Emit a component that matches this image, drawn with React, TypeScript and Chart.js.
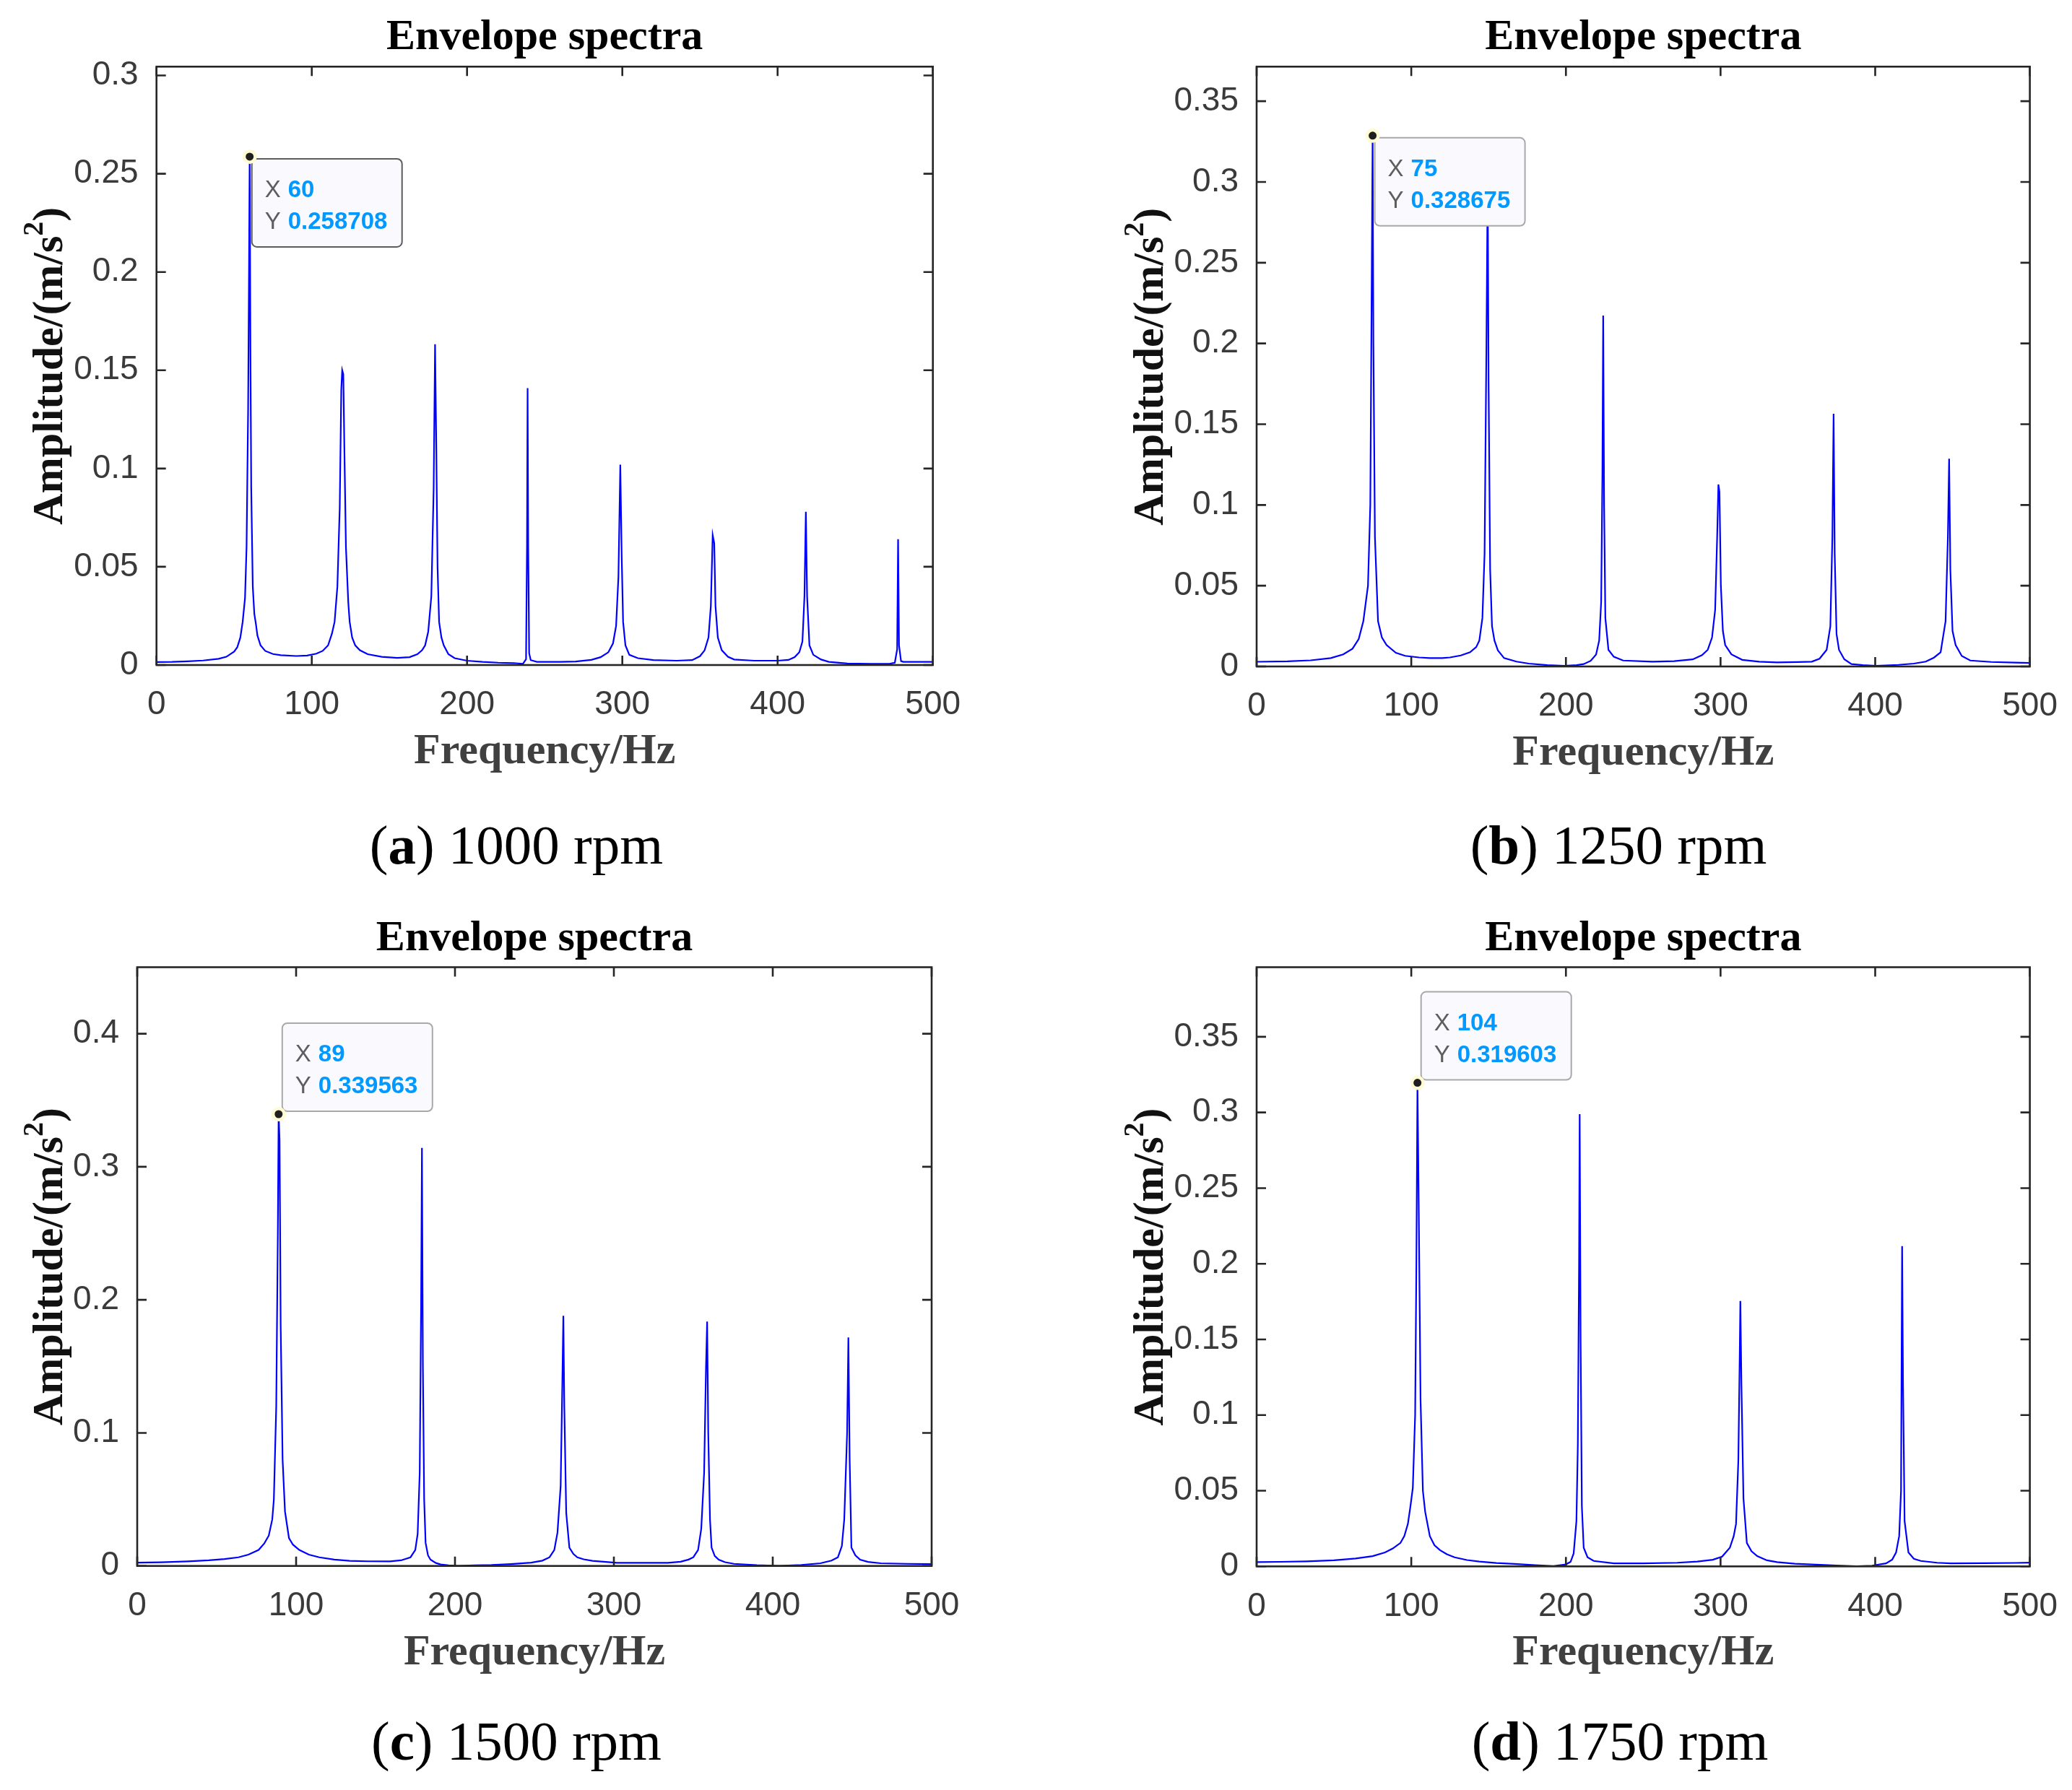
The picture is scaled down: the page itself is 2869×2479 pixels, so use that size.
import React, { useEffect, useRef } from "react";
import { Chart, registerables } from "chart.js";

Chart.register(...registerables);

// ---------------- data ----------------
const freqA = [0, 10, 20, 30, 40, 45, 50, 52, 54, 55.5, 57, 58, 59, 59.5, 60, 60.5, 61, 62, 63, 64, 65, 67, 70, 75, 80, 90, 97, 103, 107, 110.5, 113, 114.7, 116.5, 118, 119, 119.6, 120.3, 121, 122, 123.5, 124.4, 126, 128, 131, 136, 145, 155, 163, 168, 171, 173, 175, 177, 178.5, 179.4, 180.2, 181, 182, 183.5, 185, 188, 192, 200, 210, 220, 230, 236, 238, 238.6, 239, 239.4, 240, 241, 245, 260, 270, 280, 286, 291, 294, 296, 297.5, 298.7, 299.6, 300.5, 302, 304.5, 310, 320, 335, 345, 350, 353, 355.5, 357, 358.2, 359.2, 360, 361.5, 364, 368, 372, 385, 400, 407, 411, 414, 416, 417.3, 418.2, 419, 420.5, 423, 428, 433, 445, 460, 472, 475.5, 477, 477.6, 478.2, 479.5, 481, 490, 500];
const ampA = [0.0015, 0.0016, 0.0019, 0.0023, 0.0032, 0.0042, 0.0068, 0.009, 0.014, 0.022, 0.034, 0.06, 0.13, 0.19, 0.258708, 0.16, 0.09, 0.04, 0.026, 0.021, 0.015, 0.01, 0.0072, 0.0056, 0.005, 0.0046, 0.0048, 0.0058, 0.0072, 0.01, 0.016, 0.022, 0.04, 0.08, 0.14, 0.15, 0.148, 0.11, 0.06, 0.032, 0.022, 0.014, 0.01, 0.0075, 0.0055, 0.0042, 0.0036, 0.004, 0.0055, 0.0075, 0.01, 0.017, 0.035, 0.09, 0.1632, 0.11, 0.05, 0.022, 0.014, 0.01, 0.0055, 0.0035, 0.0022, 0.0016, 0.0012, 0.001, 0.0006, 0.003, 0.06, 0.1409, 0.06, 0.006, 0.0025, 0.0016, 0.0016, 0.0018, 0.0026, 0.004, 0.0065, 0.011, 0.02, 0.045, 0.102, 0.055, 0.022, 0.01, 0.0052, 0.0035, 0.0025, 0.0022, 0.0025, 0.0045, 0.0075, 0.014, 0.03, 0.0661, 0.062, 0.03, 0.014, 0.0076, 0.0042, 0.0028, 0.0022, 0.0022, 0.0026, 0.004, 0.0065, 0.012, 0.035, 0.078, 0.035, 0.01, 0.0052, 0.0028, 0.0016, 0.0008, 0.0006, 0.0006, 0.0012, 0.008, 0.064, 0.01, 0.002, 0.0016, 0.0016, 0.0016];

const freqB = [0, 20, 35, 48, 56, 62, 66, 69, 72, 73.5, 74.5, 75, 75.5, 76.5, 78.5, 81, 84, 90, 96, 105, 112, 120, 125, 132, 138, 142, 144, 146, 147.4, 148.6, 149.4, 150, 151, 152.2, 153.8, 156, 160, 168, 176, 188, 199, 207, 211.5, 216, 219.5, 221.5, 222.8, 223.6, 224.1, 224.7, 225.5, 227.5, 231, 237, 256, 270, 282, 288, 291.7, 294.5, 296.5, 297.8, 298.6, 299.3, 300.2, 301.5, 303, 307, 314, 325, 336.5, 350, 359, 364, 368.6, 371, 372.3, 373.1, 373.8, 375, 376.6, 380, 384.6, 392, 400.6, 415, 425, 432.7, 438, 442.3, 445.5, 447, 447.8, 448.6, 450, 452, 456, 461.5, 475, 490, 500];
const ampB = [0.0029, 0.0032, 0.0038, 0.0052, 0.0075, 0.011, 0.017, 0.028, 0.05, 0.1, 0.25, 0.328675, 0.2, 0.08, 0.028, 0.018, 0.0133, 0.0085, 0.0066, 0.0056, 0.0052, 0.0052, 0.0056, 0.0068, 0.0088, 0.012, 0.016, 0.03, 0.07, 0.2, 0.3, 0.175, 0.06, 0.025, 0.016, 0.01, 0.0052, 0.003, 0.0018, 0.0008, 0.0004, 0.0008, 0.0015, 0.0035, 0.0074, 0.016, 0.04, 0.12, 0.2173, 0.1, 0.03, 0.0103, 0.006, 0.0037, 0.003, 0.0033, 0.0044, 0.007, 0.0103, 0.018, 0.035, 0.08, 0.1127, 0.108, 0.05, 0.022, 0.0133, 0.0075, 0.0041, 0.003, 0.0025, 0.0027, 0.003, 0.0048, 0.0103, 0.025, 0.08, 0.1565, 0.07, 0.02, 0.0103, 0.0045, 0.0015, 0.0008, 0.0004, 0.001, 0.0018, 0.003, 0.0055, 0.0088, 0.028, 0.08, 0.1286, 0.06, 0.022, 0.0133, 0.0065, 0.0037, 0.0028, 0.0024, 0.0022];

const freqC = [0, 15, 31.8, 45, 55, 63.7, 70, 76.4, 80, 82.8, 85, 86, 87.5, 88.5, 89, 89.6, 90.3, 91.5, 93, 95.5, 98, 102, 108, 114.6, 124, 133.7, 145, 159, 166, 172, 175, 176.5, 177.8, 178.7, 179.2, 179.8, 180.6, 181.5, 183, 184.6, 188, 191, 196, 202, 212, 223, 235, 248, 255, 259.5, 262.5, 264.5, 266.5, 267.6, 268.2, 268.8, 270, 272, 274.5, 277, 281, 286.5, 302, 318, 334, 342, 347, 350, 353, 355, 356.8, 358, 358.7, 359.4, 360.5, 361.5, 363.5, 366, 370, 375.6, 390, 404, 418, 430, 437, 441, 443.5, 445, 446.8, 447.6, 448.4, 449.5, 452, 455, 460, 468, 485, 500];
const ampC = [0.0025, 0.0028, 0.0034, 0.0042, 0.0052, 0.0065, 0.0085, 0.012, 0.017, 0.0228, 0.035, 0.05, 0.12, 0.25, 0.339563, 0.32, 0.18, 0.08, 0.041, 0.021, 0.016, 0.012, 0.0085, 0.0065, 0.0048, 0.0038, 0.0035, 0.0034, 0.0042, 0.0065, 0.012, 0.024, 0.07, 0.2, 0.3142, 0.15, 0.05, 0.0174, 0.008, 0.0047, 0.0022, 0.0011, 0.0004, 0.0001, 0.0004, 0.0007, 0.0014, 0.0025, 0.004, 0.0065, 0.012, 0.025, 0.06, 0.14, 0.188, 0.12, 0.04, 0.0138, 0.009, 0.0065, 0.005, 0.0038, 0.0024, 0.0023, 0.0024, 0.0032, 0.0048, 0.0065, 0.012, 0.028, 0.07, 0.15, 0.1837, 0.1, 0.035, 0.0138, 0.0075, 0.0047, 0.0028, 0.0016, 0.0006, 0.0001, 0.0008, 0.002, 0.004, 0.0065, 0.015, 0.035, 0.1, 0.1717, 0.08, 0.0138, 0.008, 0.0047, 0.003, 0.002, 0.0016, 0.0014];

const freqD = [0, 15, 32, 50, 64, 75, 83, 88, 93, 95.5, 97.8, 99.5, 101, 102.5, 103.3, 104, 104.8, 106, 107.5, 109, 112, 115, 118.6, 123, 128, 136, 144, 155, 166.7, 180, 192, 200, 203, 205, 206.8, 207.7, 208.5, 208.9, 209.5, 210.3, 211.5, 214, 218, 231, 250, 272, 285, 295, 301, 306, 308.5, 310, 311.5, 312.4, 312.8, 313.5, 314.8, 317, 320, 323.7, 330, 336.5, 348, 359, 375, 388, 398, 407, 411, 413.5, 415.5, 416.7, 417.4, 418, 419, 421.5, 425, 429.5, 440, 448.7, 470, 490, 500];
const ampD = [0.0028, 0.003, 0.0033, 0.004, 0.0052, 0.0068, 0.0092, 0.0118, 0.0155, 0.02, 0.028, 0.04, 0.052, 0.1, 0.2, 0.319603, 0.24, 0.11, 0.05, 0.036, 0.02, 0.014, 0.0107, 0.008, 0.006, 0.0042, 0.0032, 0.0022, 0.0016, 0.0008, 0.0002, 0.0013, 0.003, 0.0085, 0.03, 0.08, 0.2, 0.2989, 0.15, 0.04, 0.0123, 0.006, 0.0036, 0.002, 0.002, 0.0024, 0.0032, 0.0044, 0.0065, 0.0123, 0.02, 0.028, 0.07, 0.14, 0.1754, 0.12, 0.045, 0.0155, 0.01, 0.0068, 0.004, 0.0028, 0.0018, 0.0013, 0.0006, 0.0001, 0.0005, 0.002, 0.0045, 0.0092, 0.02, 0.05, 0.2117, 0.12, 0.03, 0.0092, 0.005, 0.0036, 0.0024, 0.002, 0.0021, 0.0023, 0.0025];

const xTicks = [0, 100, 200, 300, 400, 500];
const yTicksA = [0, 0.05, 0.1, 0.15, 0.2, 0.25, 0.3];
const yTicksB = [0, 0.05, 0.1, 0.15, 0.2, 0.25, 0.3, 0.35];
const yTicksC = [0, 0.1, 0.2, 0.3, 0.4];
const yTicksD = [0, 0.05, 0.1, 0.15, 0.2, 0.25, 0.3, 0.35];
const yMaxes = [0.3045, 0.3714, 0.45, 0.396];
const xMin = 0;
const xMax = 500;

const tipX = [60, 75, 89, 104];
const tipY = [0.258708, 0.328675, 0.339563, 0.319603];

const captionLetters = ["a", "b", "c", "d"];
const captionRpm = ["1000 rpm", "1250 rpm", "1500 rpm", "1750 rpm"];
const titleText = "Envelope spectra";
const xLabelText = "Frequency/Hz";
const yLabelMain = "Amplitude/(m/s";
const yLabelSup = "2";
const yLabelEnd = ")";

const freqs = [freqA, freqB, freqC, freqD];
const amps = [ampA, ampB, ampC, ampD];
const yTicksAll = [yTicksA, yTicksB, yTicksC, yTicksD];

// ---------------- layout (pixels) ----------------
type Layout = {
  left: number; top: number; w: number; h: number;
  pl: number; pt: number; pr: number; pb: number;
  ylabX: number; capX: number; capY: number; tipBelow: boolean; tipBorder: string;
};

const layouts: Layout[] = [
  { left: 0, top: 0, w: 1434, h: 1240, pl: 216.7, pt: 92.3, pr: 1291.7, pb: 921, ylabX: 68, capX: 715, capY: 1196, tipBelow: true, tipBorder: "#5c5c5c" },
  { left: 1434, top: 0, w: 1435, h: 1240, pl: 306, pt: 92.3, pr: 1380.5, pb: 923, ylabX: 158, capX: 807, capY: 1196, tipBelow: true, tipBorder: "#a9a9a9" },
  { left: 0, top: 1240, w: 1434, h: 1239, pl: 190, pt: 99.5, pr: 1290, pb: 928.7, ylabX: 68, capX: 715, capY: 1197, tipBelow: false, tipBorder: "#a9a9a9" },
  { left: 1434, top: 1240, w: 1435, h: 1239, pl: 306, pt: 99.5, pr: 1380, pb: 929.3, ylabX: 158, capX: 809, capY: 1197, tipBelow: false, tipBorder: "#a9a9a9" },
];

const fmt = (v: number) => String(Number(v.toFixed(3)));

function roundRect(ctx: CanvasRenderingContext2D, x: number, y: number, w: number, h: number, r: number) {
  ctx.beginPath();
  ctx.moveTo(x + r, y);
  ctx.lineTo(x + w - r, y);
  ctx.arcTo(x + w, y, x + w, y + r, r);
  ctx.lineTo(x + w, y + h - r);
  ctx.arcTo(x + w, y + h, x + w - r, y + h, r);
  ctx.lineTo(x + r, y + h);
  ctx.arcTo(x, y + h, x, y + h - r, r);
  ctx.lineTo(x, y + r);
  ctx.arcTo(x, y, x + r, y, r);
  ctx.closePath();
}

function Panel({ idx }: { idx: number }) {
  const ref = useRef<HTMLCanvasElement | null>(null);
  const L = layouts[idx];

  useEffect(() => {
    if (!ref.current) return;
    const yTicks = yTicksAll[idx];
    const points = freqs[idx].map((f, i) => ({ x: f, y: amps[idx][i] }));

    const decor = {
      id: "decor" + idx,
      afterDraw(chart: any) {
        const ctx: CanvasRenderingContext2D = chart.ctx;
        const ca = chart.chartArea;
        const xs = chart.scales.x;
        const ys = chart.scales.y;
        ctx.save();

        // box
        ctx.strokeStyle = "#262626";
        ctx.lineWidth = 2.6;
        ctx.strokeRect(ca.left, ca.top, ca.right - ca.left, ca.bottom - ca.top);

        // inward ticks on all four sides
        const tl = 13;
        ctx.beginPath();
        xTicks.forEach((v) => {
          const px = xs.getPixelForValue(v);
          ctx.moveTo(px, ca.bottom);
          ctx.lineTo(px, ca.bottom - tl);
          ctx.moveTo(px, ca.top);
          ctx.lineTo(px, ca.top + tl);
        });
        yTicks.forEach((v) => {
          const py = ys.getPixelForValue(v);
          ctx.moveTo(ca.left, py);
          ctx.lineTo(ca.left + tl, py);
          ctx.moveTo(ca.right, py);
          ctx.lineTo(ca.right - tl, py);
        });
        ctx.stroke();

        // data tip
        const px = xs.getPixelForValue(tipX[idx]);
        const py = ys.getPixelForValue(tipY[idx]);
        const bw = 208;
        const bh = 122;
        const bx = px + (L.tipBelow ? 3 : 5);
        const by = L.tipBelow ? py + 3 : py - 4 - bh;
        roundRect(ctx, bx, by, bw, bh, 7);
        ctx.fillStyle = "#f9f9fe";
        ctx.fill();
        ctx.strokeStyle = L.tipBorder;
        ctx.lineWidth = 2;
        ctx.stroke();
        ctx.textAlign = "left";
        ctx.textBaseline = "alphabetic";
        ctx.font = '33px "Liberation Sans"';
        ctx.fillStyle = "#5e5e5e";
        ctx.fillText("X", bx + 18, by + 53);
        ctx.fillText("Y", bx + 18, by + 97);
        ctx.font = 'bold 33px "Liberation Sans"';
        ctx.fillStyle = "#0099ff";
        ctx.fillText(String(tipX[idx]), bx + 50, by + 53);
        ctx.fillText(tipY[idx].toFixed(6), bx + 50, by + 97);
        // marker
        ctx.beginPath();
        ctx.arc(px, py, 10, 0, Math.PI * 2);
        ctx.fillStyle = "#fffbd2";
        ctx.fill();
        ctx.beginPath();
        ctx.arc(px, py, 5.5, 0, Math.PI * 2);
        ctx.fillStyle = "#1f1f1f";
        ctx.fill();

        // title
        const cx = (ca.left + ca.right) / 2;
        ctx.textAlign = "center";
        ctx.font = 'bold 60px "Liberation Serif"';
        ctx.fillStyle = "#000000";
        ctx.fillText(titleText, cx, ca.top - 24);

        // x label
        ctx.fillStyle = "#404040";
        ctx.fillText(xLabelText, cx, ca.bottom + 136);

        // y label with superscript
        ctx.save();
        ctx.translate(L.ylabX, (ca.top + ca.bottom) / 2);
        ctx.rotate(-Math.PI / 2);
        ctx.textAlign = "left";
        const mainFont = 'bold 60px "Liberation Serif"';
        const supFont = 'bold 40px "Liberation Serif"';
        ctx.font = mainFont;
        const w1 = ctx.measureText(yLabelMain).width;
        const w3 = ctx.measureText(yLabelEnd).width;
        ctx.font = supFont;
        const w2 = ctx.measureText(yLabelSup).width;
        const total = w1 + w2 + w3;
        const sx = -total / 2;
        const base = 18;
        ctx.fillStyle = "#111111";
        ctx.font = mainFont;
        ctx.fillText(yLabelMain, sx, base);
        ctx.font = supFont;
        ctx.fillText(yLabelSup, sx + w1, base - 27);
        ctx.font = mainFont;
        ctx.fillText(yLabelEnd, sx + w1 + w2, base);
        ctx.restore();

        // caption "(x) nnnn rpm"
        const capFont = '77px "Liberation Serif"';
        const capBold = 'bold 77px "Liberation Serif"';
        const p1 = "(";
        const p2 = captionLetters[idx];
        const p3 = ") " + captionRpm[idx];
        ctx.textAlign = "left";
        ctx.font = capFont;
        const c1 = ctx.measureText(p1).width;
        const c3 = ctx.measureText(p3).width;
        ctx.font = capBold;
        const c2 = ctx.measureText(p2).width;
        const cs = L.capX - (c1 + c2 + c3) / 2;
        ctx.fillStyle = "#000000";
        ctx.font = capFont;
        ctx.fillText(p1, cs, L.capY);
        ctx.font = capBold;
        ctx.fillText(p2, cs + c1, L.capY);
        ctx.font = capFont;
        ctx.fillText(p3, cs + c1 + c2, L.capY);

        ctx.restore();
      },
    };

    const chart = new Chart(ref.current, {
      type: "line",
      data: {
        datasets: [
          {
            data: points,
            borderColor: "#0000ff",
            borderWidth: 2.2,
            pointRadius: 0,
            pointHoverRadius: 0,
            fill: false,
            tension: 0,
          },
        ],
      },
      options: {
        animation: false,
        responsive: false,
        events: [],
        layout: { padding: { left: 0, top: L.pt, right: L.w - L.pr, bottom: 0 } },
        plugins: {
          legend: { display: false },
          tooltip: { enabled: false },
        },
        scales: {
          x: {
            type: "linear",
            min: xMin,
            max: xMax,
            grid: { display: false },
            border: { display: false },
            afterBuildTicks: (s: any) => {
              s.ticks = xTicks.map((v) => ({ value: v }));
            },
            afterFit: (s: any) => {
              s.height = L.h - L.pb;
            },
            ticks: {
              autoSkip: false,
              maxRotation: 0,
              padding: 20,
              color: "#3a3a3a",
              font: { family: "Liberation Sans", size: 46 },
              callback: (v: any) => String(v),
            },
          },
          y: {
            type: "linear",
            min: 0,
            max: yMaxes[idx],
            grid: { display: false },
            border: { display: false },
            afterBuildTicks: (s: any) => {
              s.ticks = yTicks.map((v) => ({ value: v }));
            },
            afterFit: (s: any) => {
              s.width = L.pl;
            },
            ticks: {
              autoSkip: false,
              padding: 17,
              color: "#3a3a3a",
              font: { family: "Liberation Sans", size: 46 },
              callback: (v: any) => fmt(Number(v)),
            },
          },
        },
      },
      plugins: [decor],
    } as any);

    return () => chart.destroy();
  }, [idx]);

  return (
    <canvas
      ref={ref}
      width={L.w}
      height={L.h}
      style={{ position: "absolute", left: L.left, top: L.top, width: L.w, height: L.h }}
    />
  );
}

export default function App() {
  return (
    <div style={{ position: "absolute", left: 0, top: 0, width: 2869, height: 2479, background: "#ffffff", overflow: "hidden" }}>
      {[0, 1, 2, 3].map((i) => (
        <Panel key={i} idx={i} />
      ))}
    </div>
  );
}
